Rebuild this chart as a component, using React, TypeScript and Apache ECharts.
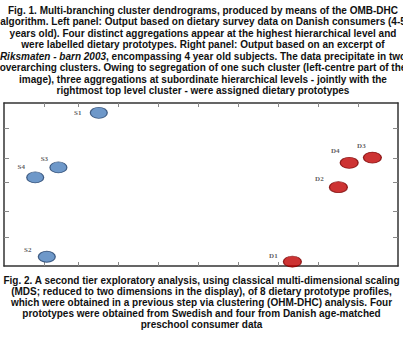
import React, { useEffect, useRef } from "react";
import * as echarts from "echarts";

// ---- data ----
const swedishNames = ["S1", "S2", "S3", "S4"];
const swedishX = [0.52, -0.78, -0.49, -1.07];
const swedishY = [5.64, 0.34, 3.63, 3.26];

const danishNames = ["D1", "D2", "D3", "D4"];
const danishX = [5.36, 6.51, 7.36, 6.78];
const danishY = [0.16, 2.9, 3.99, 3.8];

const xTickValues = [-0.85, 0, 1, 2, 3, 4, 5, 6, 7];
const yTickValues = [1.07, 2.0, 3.09, 3.97, 5.08];

const fig1Lines = [
  "Fig. 1. Multi-branching cluster dendrograms, produced by means of the OMB-DHC",
  "algorithm. Left panel: Output based on dietary survey data on Danish consumers (4-5",
  "years old). Four distinct aggregations appear at the highest hierarchical level and",
  "were labelled dietary prototypes. Right panel: Output based on an excerpt of",
  "{i|Riksmaten - barn 2003}, encompassing 4 year old subjects. The data precipitate in two",
  "overarching clusters. Owing to segregation of one such cluster (left-centre part of the",
  "image), three aggregations at subordinate hierarchical levels - jointly with the",
  "rightmost top level cluster - were assigned dietary prototypes",
];

const fig2Lines = [
  "Fig. 2. A second tier exploratory analysis, using classical multi-dimensional scaling",
  "(MDS; reduced to two dimensions in the display), of 8 dietary prototype profiles,",
  "which were obtained in a previous step via clustering (OHM-DHC) analysis. Four",
  "prototypes were obtained from Swedish and four from Danish age-matched",
  "preschool consumer data",
];

// ---- styles (label offsets relative to each point) ----
const labelOffsets: Record<string, [number, number]> = {
  S1: [-21, 0],
  S2: [-19, -7],
  S3: [-14, -8],
  S4: [-14, -10],
  D1: [-19, -6],
  D2: [-19, -8],
  D3: [-11, -12],
  D4: [-14, -12],
};

const ELLIPSE = "path://M0,6 A10,6 0 1,1 20,6 A10,6 0 1,1 0,6 Z";

export default function App() {
  const ref = useRef<HTMLDivElement>(null);

  useEffect(() => {
    if (!ref.current) return;
    const chart = echarts.init(ref.current, null, { renderer: "svg" });

    const mkData = (names: string[], xs: number[], ys: number[]) =>
      names.map((n, i) => ({
        name: n,
        value: [xs[i], ys[i]],
        label: { offset: labelOffsets[n] },
      }));

    const labelStyle = {
      show: true,
      position: "inside",
      formatter: "{b}",
      fontFamily: "Liberation Serif",
      fontWeight: "bold",
      fontSize: 7,
      color: "#333",
    };

    const capFont = "Liberation Sans";
    const FS = 10;
    const capText = (lines: string[], y0: number, step: number, cx: number) =>
      lines.map((t, i) => ({
        type: "text",
        x: cx,
        y: y0 + i * step,
        style: {
          text: t,
          align: "center",
          verticalAlign: "middle",
          fontFamily: capFont,
          fontWeight: "bold",
          fontSize: FS,
          fill: "#111",
          rich: {
            i: {
              fontFamily: capFont,
              fontWeight: "bold",
              fontStyle: "italic",
              fontSize: FS,
              fill: "#111",
            },
          },
        },
      }));

    const frameLine = { show: true, onZero: false, lineStyle: { color: "#333", width: 1.5 } };

    const xCommon = {
      type: "value",
      min: -1.85,
      max: 8,
      axisLine: frameLine,
      splitLine: { show: false },
      axisLabel: { show: false },
      axisTick: {
        show: true,
        inside: true,
        length: 4,
        customValues: xTickValues,
        lineStyle: { color: "#888", width: 1 },
      },
    };
    const yCommon = {
      type: "value",
      min: 0,
      max: 6,
      axisLine: frameLine,
      splitLine: { show: false },
      axisLabel: { show: false },
      axisTick: {
        show: true,
        inside: true,
        length: 5,
        customValues: yTickValues,
        lineStyle: { color: "#888", width: 1 },
      },
    };

    chart.setOption({
      animation: false,
      backgroundColor: "#fff",
      grid: {
        left: 4,
        top: 103,
        right: 5,
        bottom: 71,
      },
      xAxis: [
        { ...xCommon, position: "bottom" },
        { ...xCommon, position: "top" },
      ],
      yAxis: [
        { ...yCommon, position: "left" },
        { ...yCommon, position: "right" },
      ],
      series: [
        {
          type: "scatter",
          name: "Swedish",
          symbol: ELLIPSE,
          symbolSize: [17, 11],
          itemStyle: { color: "#4a7ebb", borderColor: "#24426b", borderWidth: 1 },
          label: labelStyle,
          data: mkData(swedishNames, swedishX, swedishY),
        },
        {
          type: "scatter",
          name: "Danish",
          symbol: ELLIPSE,
          symbolSize: [18, 11],
          itemStyle: { color: "#c00000", borderColor: "#7a0000", borderWidth: 1 },
          label: labelStyle,
          data: mkData(danishNames, danishX, danishY),
        },
      ],
      graphic: [
        ...capText(fig1Lines, 10, 11.5, 203),
        ...capText(fig2Lines, 280, 11.1, 201.5),
      ],
    });

    return () => chart.dispose();
  }, []);

  return (
    <div
      ref={ref}
      style={{ position: "fixed", left: 0, top: 0, width: 403, height: 337 }}
    />
  );
}
